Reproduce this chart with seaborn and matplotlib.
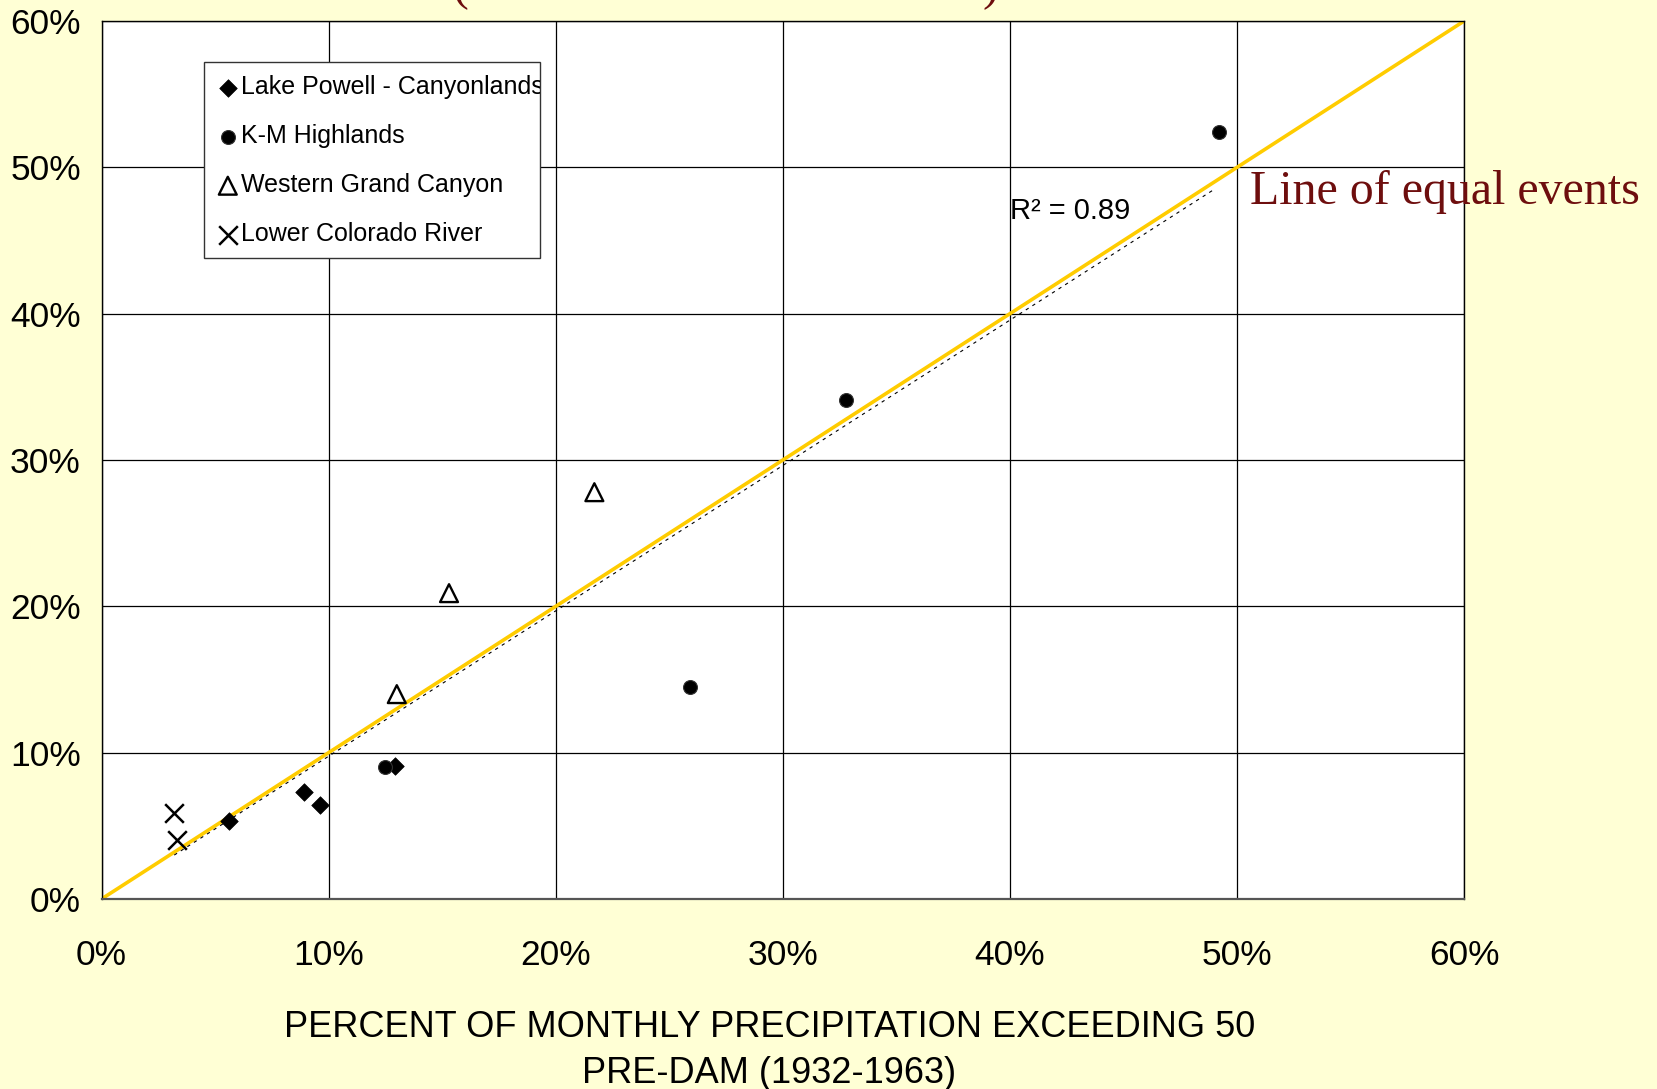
import numpy as np
import pandas as pd
import matplotlib
matplotlib.use("Agg")
import matplotlib.pyplot as plt
from matplotlib.patches import Rectangle
from matplotlib.ticker import MultipleLocator, FuncFormatter
import seaborn as sns

# --- data (percent) ---
powell_x = [5.6, 8.9, 9.6, 12.9]
powell_y = [5.3, 7.3, 6.4, 9.1]

km_x = [12.5, 25.9, 32.8, 49.2]
km_y = [9.0, 14.5, 34.1, 52.4]

wgc_x = [13.0, 15.3, 21.7]
wgc_y = [14.0, 20.9, 27.8]

lcr_x = [3.2, 3.3]
lcr_y = [5.9, 4.0]

equal_x = [0, 60]
equal_y = [0, 60]

trend_x = [3.2, 49.0]
trend_y = [3.0, 48.5]

tick_vals = [0, 10, 20, 30, 40, 50, 60]

series_names = ["Lake Powell - Canyonlands", "K-M Highlands",
                "Western Grand Canyon", "Lower Colorado River"]

sns.set_style("white")
plt.rcParams['font.family'] = ['Liberation Sans', 'DejaVu Sans']
plt.rcParams['text.color'] = 'black'
plt.rcParams['axes.labelcolor'] = 'black'
plt.rcParams['xtick.color'] = 'black'
plt.rcParams['ytick.color'] = 'black'

bg = '#FFFFD5'
dark_red = '#6E0E0E'

fig = plt.figure(figsize=(16.57, 10.89), dpi=100, facecolor=bg)
ax = fig.add_axes([0.0613, 0.1745, 0.8223, 0.8062])
ax.set_facecolor('white')

# line of equal events and the fitted trend
sns.lineplot(x=equal_x, y=equal_y, ax=ax, color='#FFCC00', lw=2.6, zorder=2)
sns.lineplot(x=trend_x, y=trend_y, ax=ax, color='black', lw=0.8,
             linestyle=(0, (3, 4)), zorder=2.5)

# --- scatter series ---
sns.scatterplot(x=powell_x, y=powell_y, ax=ax, marker='D', s=80, color='black',
                edgecolor='black', linewidth=0.5, label=series_names[0], zorder=3)
sns.scatterplot(x=km_x, y=km_y, ax=ax, marker='o', s=100, color='black',
                edgecolor='#333333', linewidth=0.8, label=series_names[1], zorder=3)
sns.scatterplot(x=wgc_x, y=wgc_y, ax=ax, marker='^', s=165, color='black',
                facecolor='none', edgecolor='black', linewidth=1.7,
                label=series_names[2], zorder=3)
sns.scatterplot(x=lcr_x, y=lcr_y, ax=ax, marker='x', s=180, color='black',
                linewidth=1.8, label=series_names[3], zorder=3)

# --- axes, grid and ticks ---
ax.set_xlim(0, 60)
ax.set_ylim(0, 60)
ax.set_xticks(tick_vals)
ax.set_yticks(tick_vals)
ax.xaxis.set_minor_locator(MultipleLocator(2))
ax.yaxis.set_minor_locator(MultipleLocator(2))
pct = FuncFormatter(lambda v, p: f"{v:.0f}%")
ax.xaxis.set_major_formatter(pct)
ax.yaxis.set_major_formatter(pct)
ax.grid(True, which='major', color='black', lw=0.9)
ax.set_axisbelow(True)
ax.tick_params(axis='both', which='minor', direction='in', length=8,
               width=0.9, color='#333333')
ax.tick_params(axis='x', which='major', direction='in', length=0, pad=29,
               labelsize=25.5)
ax.tick_params(axis='y', which='major', direction='in', length=0, pad=15,
               labelsize=25.5)
for sp in ax.spines.values():
    sp.set_color('black')
    sp.set_linewidth(1.0)
ax.spines['bottom'].set_color('#555555')
ax.spines['bottom'].set_linewidth(1.6)

ax.set_xlabel("PERCENT OF MONTHLY PRECIPITATION EXCEEDING 50\nPRE-DAM (1932-1963)",
              fontsize=26, linespacing=1.38)
ax.xaxis.set_label_coords(0.49, -0.127)
ax.set_ylabel("")

# --- legend inside a fixed box (text clipped at the box edge) ---
box = Rectangle((0.0753, 0.730), 0.2467, 0.223, transform=ax.transAxes,
                facecolor='white', edgecolor='#333333', lw=1.0, zorder=4)
ax.add_patch(box)
leg = ax.legend(loc='upper left', bbox_to_anchor=(0.0753, 0.953),
                borderaxespad=0, borderpad=0.52, frameon=False, fontsize=18,
                handlelength=0.85, handletextpad=0.12, labelspacing=1.0)
leg.set_zorder(5)
for t in leg.get_texts():
    t.set_clip_path(box)

# --- annotations ---
ax.text(40.0, 47.0, "R² = 0.89", fontsize=21, va='center', ha='left', zorder=6)
fig.text(1250 / 1657, 1 - 204 / 1089, "Line of equal events", fontsize=34.5,
         family=['Liberation Serif', 'DejaVu Serif'], color=dark_red,
         va='baseline', ha='left')
# bottom of the cut-off title (only the parentheses show)
fig.text(461 / 1657, 1.0, "(", fontsize=34, family=['Liberation Serif'],
         color=dark_red, va='baseline', ha='center')
fig.text(990 / 1657, 1.0, ")", fontsize=34, family=['Liberation Serif'],
         color=dark_red, va='baseline', ha='center')

fig.savefig("out.png", dpi=100, facecolor=bg)
